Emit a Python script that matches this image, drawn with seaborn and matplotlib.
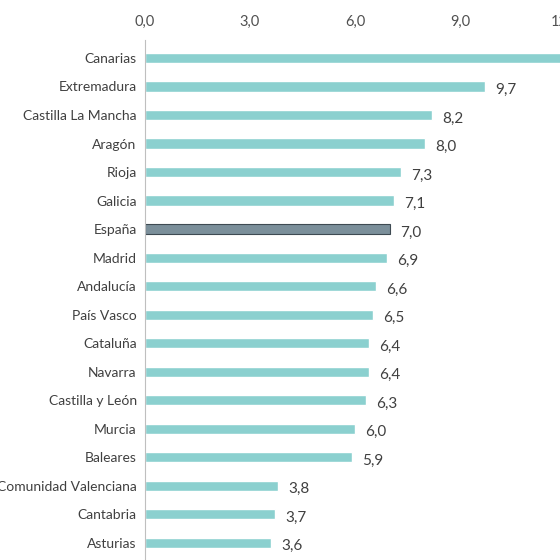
import matplotlib
matplotlib.use("Agg")
import matplotlib.pyplot as plt
import seaborn as sns
import pandas as pd

regions = ["Canarias","Extremadura","Castilla La Mancha","Aragón","Rioja","Galicia","España",
           "Madrid","Andalucía","País Vasco","Cataluña","Navarra","Castilla y León","Murcia",
           "Baleares","Comunidad Valenciana","Cantabria","Asturias"]
values = [12.5,9.7,8.2,8.0,7.3,7.1,7.0,6.9,6.6,6.5,6.4,6.4,6.3,6.0,5.9,3.8,3.7,3.6]
ticks = [0,3,6,9,12]
tick_labels = ["0,0","3,0","6,0","9,0","12,0"]

sns.set_theme(style="white")
plt.rcParams['font.family'] = ['Lato', 'DejaVu Sans']
df = pd.DataFrame({"region": regions, "value": values})
palette = {r: ("#7B8F9A" if r == "España" else "#8BD0CF") for r in regions}

fig = plt.figure(figsize=(5.6, 5.6), dpi=100)
ax = fig.add_axes([145/560, 0, 490/560, 1 - 40/560])
sns.barplot(data=df, x="value", y="region", hue="region", palette=palette,
            legend=False, width=0.36, ax=ax, saturation=1)
for p, r in zip(ax.patches, regions):
    if r == "España":
        p.set_edgecolor("#3E4A52"); p.set_linewidth(0.8)
for i, v in enumerate(values):
    ax.text(v + 0.3, i + 0.12, f"{v:.1f}".replace(".", ","), va="center", ha="left",
            fontsize=11, color="#404040")
ax.set_xlim(0, 14)
ax.set_ylim(17.6, -0.63)
ax.xaxis.tick_top()
ax.set_xticks(ticks)
ax.set_xticklabels(tick_labels)
ax.tick_params(axis="x", length=0, labelsize=10.5, labelcolor="#505050", pad=8)
ax.tick_params(axis="y", length=0, labelsize=10, labelcolor="#404040", pad=6)
ax.set_xlabel(""); ax.set_ylabel("")
for s in ["top", "right", "bottom"]:
    ax.spines[s].set_visible(False)
ax.spines["left"].set_color("#BFBFBF")
ax.spines["left"].set_linewidth(0.8)
fig.savefig("out.png", dpi=100)
